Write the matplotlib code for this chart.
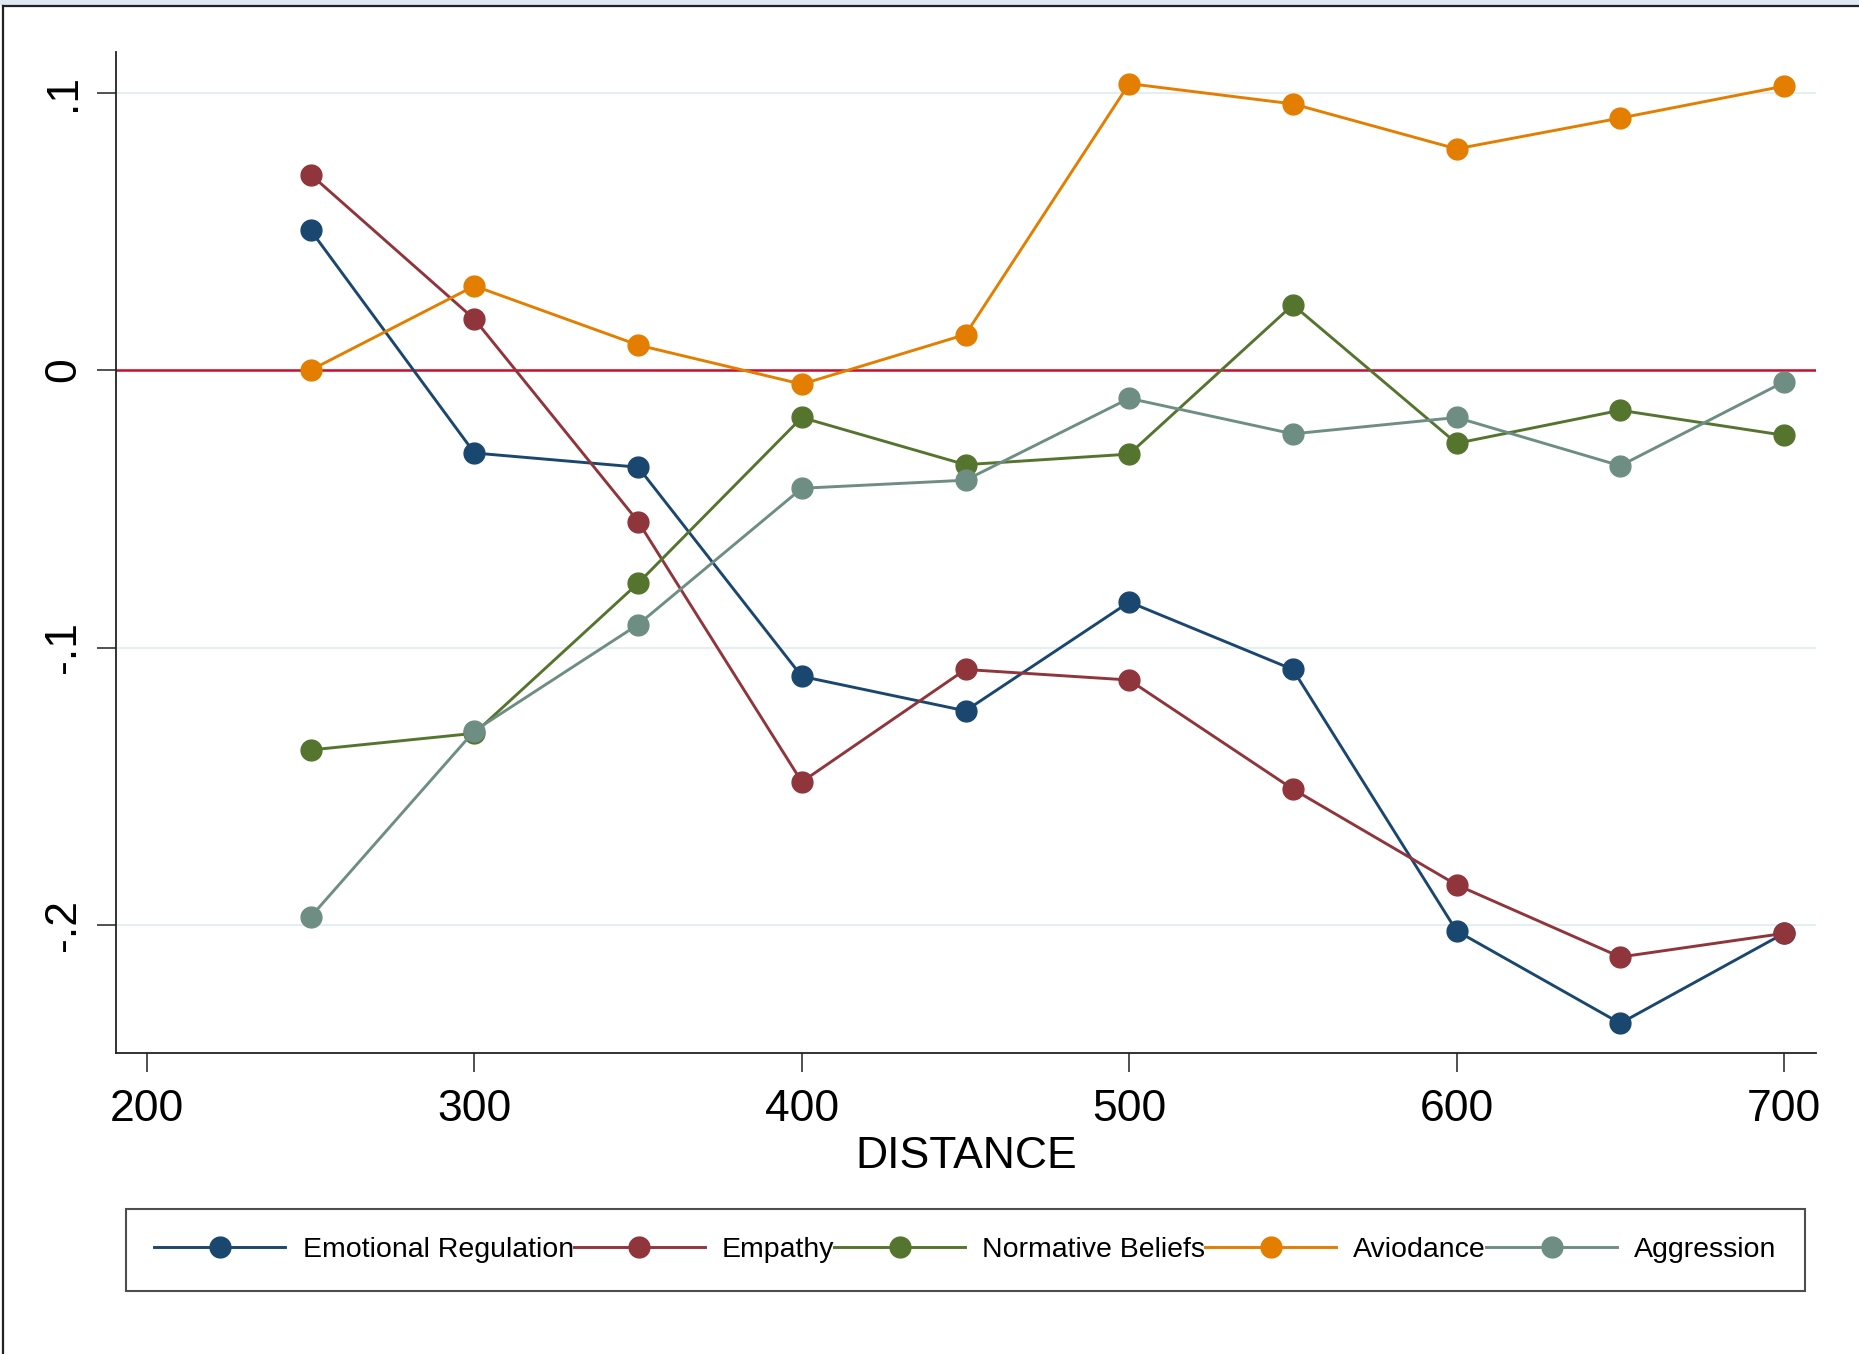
import matplotlib.pyplot as plt
from matplotlib.lines import Line2D
from matplotlib.patches import Rectangle

plt.rcParams['font.family'] = ['Liberation Sans', 'DejaVu Sans']

# data
distance = [250, 300, 350, 400, 450, 500, 550, 600, 650, 700]
emotional_regulation = [0.0503, -0.0299, -0.0350, -0.1104, -0.1228, -0.0836, -0.1079, -0.2021, -0.2354, -0.2030]
empathy = [0.0704, 0.0183, -0.0546, -0.1484, -0.1079, -0.1117, -0.1510, -0.1855, -0.2115, -0.2030]
normative_beliefs = [-0.1369, -0.1309, -0.0768, -0.0171, -0.0341, -0.0303, 0.0235, -0.0264, -0.0145, -0.0235]
aviodance = [0.0000, 0.0303, 0.0090, -0.0051, 0.0128, 0.1032, 0.0959, 0.0797, 0.0908, 0.1023]
aggression = [-0.1970, -0.1300, -0.0917, -0.0426, -0.0397, -0.0102, -0.0230, -0.0171, -0.0345, -0.0043]

series_names = ['Emotional Regulation', 'Empathy', 'Normative Beliefs', 'Aviodance', 'Aggression']
series_colors = ['#1a476f', '#90353b', '#55752f', '#e37e00', '#6e8e84']

xticks = [200, 300, 400, 500, 600, 700]
yticks = [-0.2, -0.1, 0, 0.1]
ytick_labels = ['-.2', '-.1', '0', '.1']

W, H = 1859, 1354
fig = plt.figure(figsize=(W / 100, H / 100), dpi=100)

# screenshot frame around the graph
fig.add_artist(Rectangle((0, 1 - 5 / H), 1, 5 / H, transform=fig.transFigure,
                         facecolor='#dde8f2', edgecolor='none'))
fig.add_artist(Line2D([3 / W, 1], [1 - 6 / H, 1 - 6 / H], transform=fig.transFigure,
                      color='#222222', lw=1.6))
fig.add_artist(Line2D([3 / W, 3 / W], [0, 1 - 6 / H], transform=fig.transFigure,
                      color='#222222', lw=1.6))

ax = fig.add_axes([116 / W, 1 - 1053 / H, (1816 - 116) / W, (1053 - 52) / H])

all_series = [emotional_regulation, empathy, normative_beliefs, aviodance, aggression]

ax.axhline(0, color='#c8102e', lw=1.8, zorder=2)
for vals, name, col in zip(all_series, series_names, series_colors):
    ax.plot(distance, vals, color=col, lw=2.1, marker='o', markersize=15,
            label=name, zorder=3)

ax.set_xlim(190.5, 709.8)
ax.set_ylim(-0.2461, 0.1146)
ax.set_xticks(xticks)
ax.set_yticks(yticks)
ax.set_yticklabels(ytick_labels, rotation=90, va='center')
ax.grid(axis='y', color='#e6eff0', lw=1.6, zorder=0)
ax.set_axisbelow(True)

for s in ['top', 'right']:
    ax.spines[s].set_visible(False)
for s in ['left', 'bottom']:
    ax.spines[s].set_color('#222222')
    ax.spines[s].set_linewidth(1.3)
ax.tick_params(axis='both', length=14, width=1.1, color='#222222',
               labelsize=32, labelcolor='black')
ax.tick_params(axis='x', pad=12)
ax.tick_params(axis='y', pad=9)

ax.set_xlabel('DISTANCE', fontsize=32, labelpad=4)

leg = fig.legend(loc='center', bbox_to_anchor=(965.5 / W, 1 - 1250 / H), ncol=5,
                 fontsize=20.5, frameon=True, fancybox=False, handlelength=4.6,
                 handletextpad=0.6, columnspacing=0.0, borderpad=1.0,
                 borderaxespad=0)
leg.get_frame().set_edgecolor('#222222')
leg.get_frame().set_linewidth(1.5)

fig.savefig('out.png', dpi=100)
